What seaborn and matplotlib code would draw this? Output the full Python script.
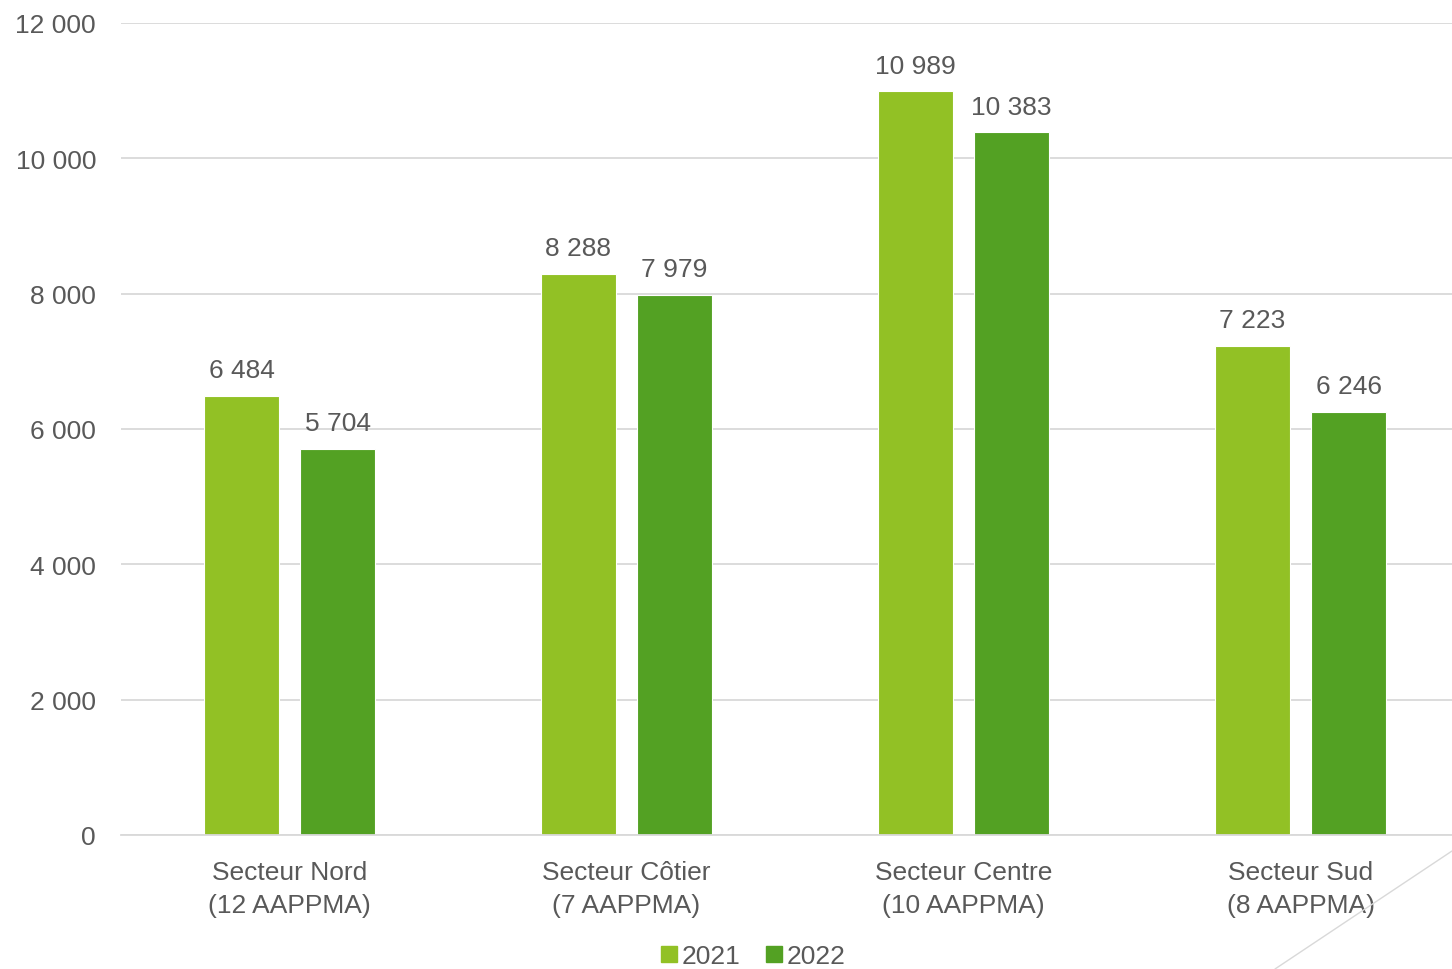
import pandas as pd
import seaborn as sns
from matplotlib import pyplot as plt
from matplotlib.lines import Line2D

sectors = ["Secteur Nord\n(12 AAPPMA)", "Secteur Côtier\n(7 AAPPMA)",
           "Secteur Centre\n(10 AAPPMA)", "Secteur Sud\n(8 AAPPMA)"]
years = ["2021", "2022"]
values_2021 = [6484, 8288, 10989, 7223]
values_2022 = [5704, 7979, 10383, 6246]
yticks = [0, 2000, 4000, 6000, 8000, 10000, 12000]

df = pd.DataFrame({
	"secteur": sectors * 2,
	"annee": [years[0]] * 4 + [years[1]] * 4,
	"valeur": values_2021 + values_2022,
})

sns.set_style("white")
plt.rcParams['font.family'] = ['Liberation Sans', 'DejaVu Sans']
text_color = "#595959"
palette = {"2021": "#92C125", "2022": "#53A123"}

fig = plt.figure(figsize=(14.52, 9.70), dpi=100)
ax = fig.add_axes([121 / 1452, (970 - 836) / 970, 1348 / 1452, (836 - 24) / 970])

sns.barplot(data=df, x="secteur", y="valeur", hue="annee", palette=palette,
			width=0.57, gap=0.22, ax=ax, legend=False, saturation=1,
			edgecolor="white", linewidth=0.8)

def fmt(v):
	return f"{int(round(v)):,}".replace(",", " ")

for container in ax.containers:
	ax.bar_label(container, labels=[fmt(v) for v in container.datavalues],
				 padding=10, fontsize=19, color=text_color)

ax.set_ylim(0, 12000)
ax.set_yticks(yticks)
ax.set_yticklabels([fmt(v) for v in yticks], fontsize=19, color=text_color)
ax.tick_params(axis="x", labelsize=19, labelcolor=text_color, length=0, pad=18)
for lbl in ax.get_xticklabels():
	lbl.set_linespacing(1.45)
ax.tick_params(axis="y", length=0, pad=18)
ax.set_xlabel("")
ax.set_ylabel("")
ax.yaxis.grid(True, color="#D9D9D9", linewidth=1.3)
ax.set_axisbelow(True)
for side in ["top", "right", "left"]:
	ax.spines[side].set_visible(False)
ax.spines["bottom"].set_color("#D9D9D9")
ax.spines["bottom"].set_linewidth(1.3)

handles = [Line2D([], [], marker="s", linestyle="", markersize=12,
				  markerfacecolor=palette[y], markeredgecolor=palette[y]) for y in years]
fig.legend(handles, years, loc="center", bbox_to_anchor=(752 / 1452, 1 - 957 / 970),
		   ncol=2, frameon=False, fontsize=19, labelcolor=text_color,
		   handletextpad=0.05, columnspacing=0.9, handlelength=0.8)

# decorative diagonal line in the bottom-right corner
fig.add_artist(Line2D([1275 / 1452, 1452 / 1452], [1 - 970 / 970, 1 - 852 / 970],
					  transform=fig.transFigure, color="#D9D9D9", linewidth=1))

fig.savefig("out.png", dpi=100)
